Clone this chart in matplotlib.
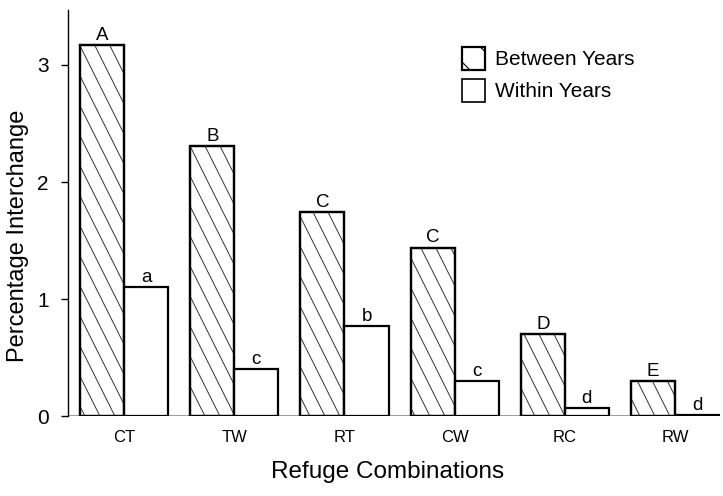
import numpy as np
import matplotlib.pyplot as plt
from matplotlib.collections import LineCollection
from matplotlib.patches import Patch

plt.rcParams['font.family'] = ['Liberation Sans', 'DejaVu Sans']

# data
combos = ["CT", "TW", "RT", "CW", "RC", "RW"]
between = [3.17, 2.31, 1.74, 1.44, 0.70, 0.30]
within = [1.10, 0.40, 0.77, 0.30, 0.07, 0.01]
between_lbl = ["A", "B", "C", "C", "D", "E"]
within_lbl = ["a", "c", "b", "c", "d", "d"]

x = np.arange(len(combos))
w = 0.4

fig = plt.figure(figsize=(7.23, 4.96), dpi=100)
ax = fig.add_axes([0.094, 0.161, 0.902, 0.819])

bars1 = ax.bar(x - w/2, between, w, facecolor='white', edgecolor='black',
               linewidth=1.6, zorder=3)
ax.bar(x + w/2, within, w, facecolor='white', edgecolor='black',
       linewidth=1.6, zorder=3)

# steep diagonal hatching, clipped to each "between" bar
step = 0.023
drop = 0.311
segs = [[(x0, 1.0), (x0 + drop, 0.0)] for x0 in np.arange(-0.4, 1.05, step)]
for b in bars1:
    lc = LineCollection(segs, colors='0.2', linewidths=0.7,
                        transform=ax.transAxes, zorder=3.5)
    ax.add_collection(lc, autolim=False)
    lc.set_clip_path(b)
    ax.add_patch(plt.Rectangle(b.get_xy(), b.get_width(), b.get_height(),
                               fill=False, edgecolor='black', lw=1.6, zorder=4))

for xi, v, t in zip(x - w/2, between, between_lbl):
    ax.text(xi, v + 0.01, t, ha='center', va='bottom', fontsize=13.5)
for xi, v, t in zip(x + w/2, within, within_lbl):
    ax.text(xi, v + 0.01, t, ha='center', va='bottom', fontsize=13.5)

ax.axhline(0, color='0.55', lw=1.2, zorder=1)

ax.set_xlim(-0.51, 5.41)
ax.set_ylim(0, 3.47)
ax.set_yticks([0, 1, 2, 3])
ax.set_xticks(x)
ax.set_xticklabels(combos, fontsize=12)
ax.tick_params(axis='x', length=0, pad=10)
ax.tick_params(axis='y', labelsize=15, length=5, width=1, pad=9)

for s in ['top', 'right', 'bottom']:
    ax.spines[s].set_visible(False)
ax.spines['left'].set_linewidth(1)

ax.set_ylabel("Percentage Interchange", fontsize=17)
ax.yaxis.set_label_coords(-0.06, 0.443)
ax.set_xlabel("Refuge Combinations", fontsize=17.5)
ax.xaxis.set_label_coords(0.49, -0.11)

plt.rcParams['hatch.linewidth'] = 0.8
handles = [Patch(facecolor='white', edgecolor='black', hatch='\\', lw=1.6),
           Patch(facecolor='white', edgecolor='black', lw=1.2)]
ax.legend(handles, ['Between Years', 'Within Years'], loc='upper left',
          bbox_to_anchor=(0.575, 0.955), frameon=False,
          fontsize=15, handlelength=1.1, handleheight=1.3, handletextpad=0.5,
          labelspacing=0.45)

fig.savefig("out.png", dpi=100)
